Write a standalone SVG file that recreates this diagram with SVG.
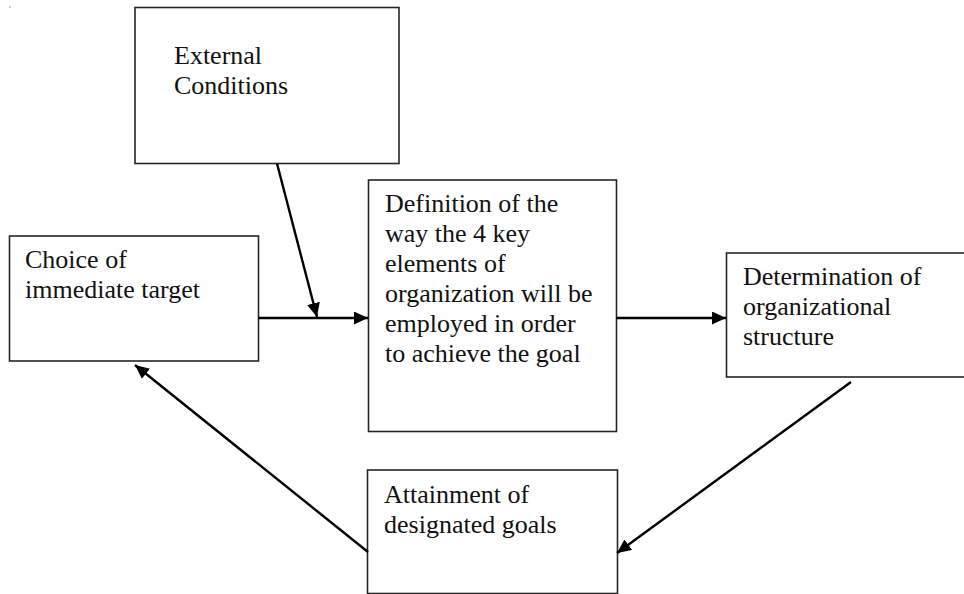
<svg xmlns="http://www.w3.org/2000/svg" width="964" height="594" viewBox="0 0 964 594">
<style>
.box{fill:#fff;stroke:#262626;stroke-width:1.6}
.t{font-family:"Liberation Serif","Times New Roman",serif;font-size:26px;fill:#111}
.c{stroke:#000;stroke-width:2.4;fill:none;marker-end:url(#ah)}
</style>
<defs>
<marker id="ah" markerUnits="userSpaceOnUse" markerWidth="15" markerHeight="14" refX="14" refY="6.5" orient="auto">
<path d="M0,0 L14,6.5 L0,13 z" fill="#000"/>
</marker>
</defs>
<rect width="964" height="594" fill="#fff"/>
<rect x="9" y="6.5" width="2" height="1" fill="#999"/>
<rect x="157.5" y="31" width="2" height="1" fill="#999"/>
<g id="external">
<rect class="box" x="135" y="7.5" width="264" height="156"/>
<text class="t" x="174" y="64">External</text>
<text class="t" x="174" y="94">Conditions</text>
</g>
<g id="choice">
<rect class="box" x="9.5" y="236" width="249" height="125"/>
<text class="t" x="25" y="268">Choice of</text>
<text class="t" x="25" y="298">immediate target</text>
</g>
<g id="definition">
<rect class="box" x="368.5" y="180" width="248" height="251.5"/>
<text class="t" x="385" y="212">Definition of the</text>
<text class="t" x="385" y="242">way the 4 key</text>
<text class="t" x="385" y="272">elements of</text>
<text class="t" x="385" y="302">organization will be</text>
<text class="t" x="385" y="332">employed in order</text>
<text class="t" x="385" y="362">to achieve the goal</text>
</g>
<g id="determination">
<rect class="box" x="726.5" y="253" width="250" height="124"/>
<text class="t" x="743" y="285">Determination of</text>
<text class="t" x="743" y="315">organizational</text>
<text class="t" x="743" y="345">structure</text>
</g>
<g id="attainment">
<rect class="box" x="367.5" y="470" width="250" height="123.5"/>
<text class="t" x="384" y="503">Attainment of</text>
<text class="t" x="384" y="533">designated goals</text>
</g>
<g id="connectors">
<line class="c" x1="277" y1="163.5" x2="317" y2="317"/>
<line class="c" x1="258.5" y1="318" x2="368" y2="318"/>
<line class="c" x1="616.5" y1="318" x2="726" y2="318"/>
<line class="c" x1="851" y1="382" x2="617" y2="553"/>
<line class="c" x1="368" y1="552" x2="135" y2="365"/>
</g>
</svg>
